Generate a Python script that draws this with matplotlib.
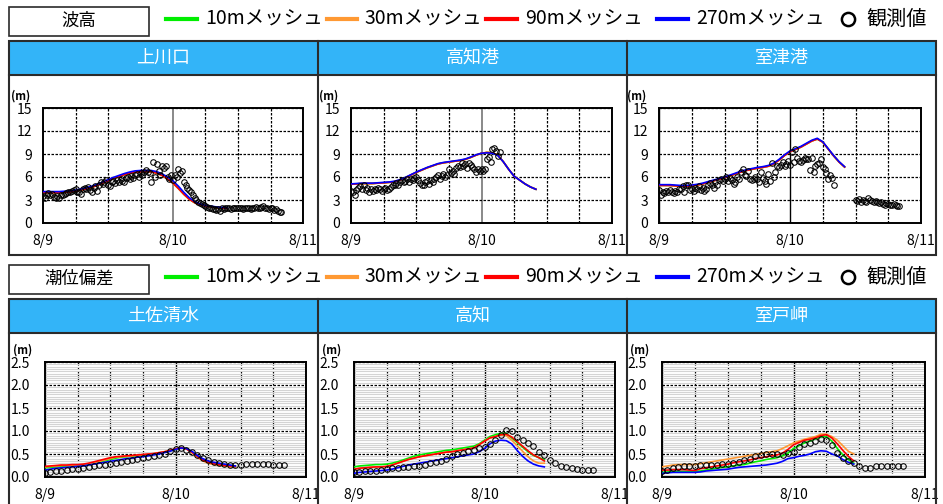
import numpy as np
import matplotlib
matplotlib.use('Agg')
from matplotlib import pyplot as plt
from matplotlib.patches import Rectangle
from matplotlib.lines import Line2D
from matplotlib.ticker import MultipleLocator

plt.rcParams['font.family'] = ['Noto Sans CJK JP', 'DejaVu Sans']

W, H = 943, 504

mesh_names = ['10mメッシュ', '30mメッシュ', '90mメッシュ', '270mメッシュ']
mesh_colors = ['#00ee00', '#ff9933', '#ff0000', '#0000ff']
obs_name = '観測値'
wave_title = '波高'
tide_title = '潮位偏差'
wave_sites = ['上川口', '高知港', '室津港']
tide_sites = ['土佐清水', '高知', '室戸岬']
date_labels = ['8/9', '8/10', '8/11']
date_hours = [0, 24, 48]

# ---- wave height (m), model output every hour from 8/9 0:00 ----
model_hours = np.arange(35)
kami_wave_fine = [3.95, 3.95, 3.95, 3.95, 4.0, 4.05, 4.15, 4.3, 4.45, 4.65, 4.9, 5.2,
                  5.5, 5.8, 6.05, 6.3, 6.5, 6.62, 6.68, 6.7, 6.68, 6.5, 6.2, 5.75,
                  5.2, 4.5, 3.75, 3.1, 2.65, 2.4, 2.2, 2.1, 2.0, 1.95, 1.9]
kami_wave_270 = [4.1, 4.1, 4.1, 4.1, 4.15, 4.2, 4.3, 4.45, 4.6, 4.8, 5.05, 5.35,
                 5.65, 5.95, 6.2, 6.45, 6.65, 6.8, 6.85, 6.85, 6.85, 6.7, 6.4, 6.0,
                 5.5, 4.8, 4.0, 3.3, 2.8, 2.5, 2.3, 2.2, 2.1, 2.05, 2.0]
kochi_wave_fine = [5.05, 5.1, 5.15, 5.15, 5.15, 5.2, 5.25, 5.3, 5.4, 5.6, 5.9, 6.25,
                   6.6, 6.9, 7.2, 7.45, 7.7, 7.85, 7.95, 8.05, 8.15, 8.3, 8.55, 8.85,
                   9.1, 9.2, 9.15, 8.85, 8.0, 7.0, 6.1, 5.6, 5.1, 4.7, 4.4]
kochi_wave_270 = [5.1, 5.15, 5.2, 5.2, 5.2, 5.25, 5.3, 5.35, 5.45, 5.65, 5.95, 6.3,
                  6.65, 6.95, 7.25, 7.5, 7.75, 7.9, 8.0, 8.1, 8.2, 8.35, 8.6, 8.9,
                  9.1, 9.15, 9.1, 8.8, 8.0, 7.0, 6.1, 5.6, 5.1, 4.7, 4.4]
muro_wave_fine = [4.9, 4.9, 4.9, 4.85, 4.8, 4.8, 4.85, 4.95, 5.1, 5.3, 5.5, 5.7,
                  5.9, 6.15, 6.4, 6.65, 6.85, 7.0, 7.15, 7.25, 7.4, 7.7, 8.2, 8.8,
                  9.3, 9.6, 9.9, 10.3, 10.7, 10.95, 10.55, 9.65, 8.75, 7.95, 7.3]
muro_wave_270 = [5.0, 5.0, 5.0, 4.95, 4.9, 4.9, 4.95, 5.05, 5.2, 5.4, 5.6, 5.8,
                 6.0, 6.25, 6.5, 6.75, 6.95, 7.1, 7.25, 7.35, 7.5, 7.8, 8.3, 8.9,
                 9.4, 9.7, 10.0, 10.4, 10.8, 11.05, 10.6, 9.7, 8.8, 8.0, 7.35]

# ---- observed wave height (m), every 20 minutes ----
kami_obs = [3.5, 3.3, 3.7, 3.9, 3.6, 3.8,
            3.4, 3.2, 3.5, 3.3, 3.6, 3.7,
            3.8, 3.9, 4.0, 4.1, 4.2, 4.3,
            4.4, 4.1, 4.0, 3.8, 4.5, 4.6,
            4.5, 4.7, 4.3, 4.1, 4.6, 4.8,
            4.2, 5.0, 5.3, 5.1, 5.4, 5.6,
            5.0, 4.8, 5.3, 5.5, 5.2, 5.6,
            5.4, 5.8, 5.5, 5.3, 5.9, 6.0,
            5.7, 6.1, 5.9, 6.2, 6.4, 6.0,
            6.5, 6.3, 6.6, 6.9, 6.7, 6.5,
            5.4, 7.9, 6.0, 7.7, 6.8, 6.2,
            7.4, 7.2, 7.5, 6.0, 5.8, 6.3,
            5.6, 6.2, 6.0, 7.0, 6.5, 6.8,
            5.3, 5.0, 4.6, 4.3, 4.0, 3.7,
            3.3, 3.0, 2.8, 2.6, 2.5, 2.3,
            2.2, 2.1, 2.0, 1.9, 1.8, 1.8,
            1.7, 1.8, 1.6, 1.9, 1.8, 1.9,
            2.0, 1.9, 1.8, 1.9, 2.0, 1.9,
            1.9, 2.0, 1.9, 1.8, 1.9, 2.0,
            1.9, 1.8, 1.9, 2.0, 2.1, 1.9,
            2.0, 2.1, 2.2, 1.9, 2.0, 1.8,
            2.0, 1.9, 1.7, 1.8, 1.6, 1.5,
            1.5]
kochi_obs = [4.2, 4.0, 3.6, 4.3, 4.6, 4.8,
             4.5, 4.9, 4.3, 4.6, 4.1, 4.4,
             4.2, 4.5, 4.3, 4.6, 4.4, 4.2,
             4.4, 4.6, 4.3, 4.5, 4.7, 4.9,
             5.0, 5.2, 4.9, 5.4, 5.6, 5.3,
             5.5, 5.7, 5.4, 5.8, 5.6, 5.9,
             6.0, 5.6, 5.2, 5.0, 4.9, 5.3,
             5.5, 5.1, 5.6, 5.4, 5.8, 6.0,
             6.2, 5.7, 6.1, 6.4, 6.0, 6.3,
             7.0, 6.5, 6.8, 6.4, 7.2, 7.5,
             7.3, 7.8, 7.4, 7.7, 7.2, 7.8,
             7.6, 7.3, 7.0, 6.7, 7.1, 6.8,
             7.0, 6.8, 7.1, 8.3, 8.6, 7.9,
             9.6, 9.8, 9.4, 8.8, 9.3]
muro_obs_a = [4.3, 3.7, 4.1, 3.9, 4.2, 4.0,
              4.3, 4.1, 3.9, 4.2, 4.0, 4.4,
              4.5, 4.8, 4.1, 4.9, 5.0, 4.3,
              4.4, 4.2, 4.6, 4.5, 4.8, 4.3,
              4.6, 4.2, 4.5, 4.9, 5.2, 5.0,
              4.6, 5.3, 4.9, 5.6, 5.8, 5.5,
              5.7, 6.0, 5.5, 5.9, 5.6, 5.1,
              5.3, 6.0, 5.8, 6.7, 7.0, 6.3,
              6.1, 6.8, 5.8, 5.6, 5.7, 6.0,
              5.7, 5.3, 6.7, 5.9, 5.5, 5.1,
              6.4, 5.5, 7.8, 6.0, 6.6, 7.4,
              7.3, 7.6, 8.0, 7.4, 7.7, 8.1,
              7.6, 9.3, 8.0, 9.6, 8.5, 8.1,
              7.9, 8.2, 8.5, 8.3, 8.4, 6.9,
              8.5, 6.7, 7.5, 7.7, 7.8, 8.3,
              7.3, 7.0, 6.5, 5.8, 6.3, 5.9,
              5.0]
muro_obs_b = [3.0, 2.9, 3.1, 2.8, 3.0, 2.9, 2.8, 3.2, 3.0, 2.9, 2.8, 2.9, 2.7,
              2.6, 2.7, 2.5, 2.4, 2.6, 2.5, 2.3, 2.4, 2.5, 2.3, 2.2, 2.2]

# ---- tide anomaly (m), model every hour, observed every hour ----
tide_model_hours = np.arange(36)
tosa_10 = [0.20, 0.21, 0.22, 0.23, 0.24, 0.25, 0.25, 0.26, 0.28, 0.30, 0.32, 0.35,
           0.38, 0.41, 0.43, 0.44, 0.45, 0.46, 0.47, 0.48, 0.50, 0.52, 0.54, 0.57,
           0.60, 0.64, 0.62, 0.55, 0.46, 0.38, 0.33, 0.30, 0.29, 0.27, 0.25, 0.24]
tosa_30 = [0.22, 0.23, 0.24, 0.25, 0.25, 0.26, 0.26, 0.27, 0.29, 0.31, 0.34, 0.37,
           0.40, 0.43, 0.44, 0.45, 0.46, 0.47, 0.48, 0.49, 0.51, 0.53, 0.55, 0.58,
           0.61, 0.64, 0.61, 0.53, 0.43, 0.35, 0.30, 0.27, 0.25, 0.24, 0.22, 0.22]
tosa_90 = [0.23, 0.24, 0.25, 0.26, 0.26, 0.27, 0.27, 0.28, 0.30, 0.33, 0.36, 0.39,
           0.42, 0.44, 0.45, 0.46, 0.47, 0.48, 0.49, 0.50, 0.51, 0.53, 0.55, 0.58,
           0.61, 0.64, 0.61, 0.54, 0.45, 0.37, 0.32, 0.29, 0.27, 0.25, 0.24, 0.23]
tosa_270 = [0.15, 0.17, 0.19, 0.20, 0.21, 0.22, 0.23, 0.24, 0.26, 0.28, 0.30, 0.32,
            0.34, 0.36, 0.38, 0.40, 0.41, 0.43, 0.44, 0.46, 0.48, 0.50, 0.53, 0.56,
            0.60, 0.63, 0.62, 0.56, 0.47, 0.40, 0.35, 0.32, 0.30, 0.28, 0.26, 0.24]
kochi_10 = [0.22, 0.24, 0.25, 0.26, 0.27, 0.27, 0.28, 0.30, 0.33, 0.37, 0.41, 0.45,
            0.48, 0.50, 0.52, 0.54, 0.56, 0.58, 0.59, 0.61, 0.63, 0.65, 0.67, 0.72,
            0.80, 0.88, 0.92, 0.95, 0.95, 0.85, 0.75, 0.65, 0.55, 0.47, 0.42, 0.38]
kochi_30 = [0.17, 0.19, 0.20, 0.21, 0.22, 0.22, 0.23, 0.26, 0.30, 0.34, 0.38, 0.41,
            0.44, 0.46, 0.48, 0.50, 0.52, 0.54, 0.55, 0.57, 0.59, 0.61, 0.63, 0.70,
            0.78, 0.85, 0.88, 0.91, 0.90, 0.80, 0.68, 0.56, 0.44, 0.35, 0.30, 0.30]
kochi_90 = [0.17, 0.19, 0.20, 0.21, 0.22, 0.22, 0.23, 0.26, 0.30, 0.34, 0.38, 0.41,
            0.44, 0.46, 0.48, 0.50, 0.52, 0.54, 0.55, 0.57, 0.59, 0.61, 0.63, 0.70,
            0.78, 0.85, 0.88, 0.92, 0.93, 0.87, 0.77, 0.67, 0.57, 0.48, 0.42, 0.35]
kochi_270 = [0.08, 0.10, 0.11, 0.12, 0.13, 0.14, 0.15, 0.17, 0.20, 0.23, 0.26, 0.28,
             0.30, 0.32, 0.34, 0.36, 0.38, 0.40, 0.42, 0.44, 0.46, 0.48, 0.50, 0.55,
             0.62, 0.72, 0.78, 0.80, 0.79, 0.72, 0.58, 0.45, 0.35, 0.28, 0.24, 0.22]
muroto_10 = [0.10, 0.11, 0.12, 0.12, 0.12, 0.12, 0.12, 0.13, 0.15, 0.17, 0.19, 0.21,
             0.22, 0.24, 0.26, 0.27, 0.30, 0.33, 0.35, 0.38, 0.40, 0.42, 0.46, 0.52,
             0.62, 0.68, 0.74, 0.78, 0.83, 0.87, 0.88, 0.78, 0.62, 0.48, 0.38, 0.30]
muroto_30 = [0.22, 0.24, 0.26, 0.27, 0.27, 0.27, 0.27, 0.29, 0.31, 0.33, 0.35, 0.37,
             0.39, 0.41, 0.43, 0.45, 0.47, 0.49, 0.51, 0.53, 0.55, 0.57, 0.62, 0.68,
             0.74, 0.78, 0.82, 0.85, 0.88, 0.93, 0.93, 0.88, 0.80, 0.68, 0.56, 0.50]
muroto_90 = [0.15, 0.15, 0.16, 0.16, 0.16, 0.15, 0.14, 0.18, 0.20, 0.22, 0.24, 0.26,
             0.28, 0.31, 0.33, 0.35, 0.37, 0.40, 0.42, 0.44, 0.46, 0.48, 0.52, 0.60,
             0.70, 0.75, 0.80, 0.82, 0.85, 0.90, 0.92, 0.85, 0.72, 0.58, 0.45, 0.35]
muroto_270 = [0.08, 0.09, 0.10, 0.10, 0.10, 0.10, 0.10, 0.11, 0.13, 0.14, 0.15, 0.16,
              0.17, 0.19, 0.21, 0.22, 0.23, 0.24, 0.25, 0.26, 0.28, 0.30, 0.34, 0.40,
              0.42, 0.45, 0.47, 0.50, 0.55, 0.57, 0.56, 0.50, 0.46, 0.38, 0.32, 0.28]

obs_tide_hours = np.arange(45)
tosa_obs = [0.09, 0.10, 0.12, 0.13, 0.15, 0.17, 0.18, 0.20, 0.22, 0.24,
            0.26, 0.27, 0.29, 0.31, 0.33, 0.35, 0.37, 0.39, 0.41, 0.43,
            0.45, 0.48, 0.51, 0.56, 0.61, 0.64, 0.58, 0.54, 0.47, 0.41,
            0.36, 0.33, 0.31, 0.29, 0.27, 0.27, 0.27, 0.28, 0.28, 0.28,
            0.28, 0.28, 0.27, 0.27, 0.27]
kochi_obs_tide = [0.10, 0.11, 0.12, 0.13, 0.14, 0.16, 0.18, 0.19, 0.20, 0.21,
                  0.22, 0.23, 0.24, 0.27, 0.30, 0.33, 0.35, 0.40, 0.46, 0.50,
                  0.53, 0.56, 0.59, 0.63, 0.66, 0.72, 0.80, 0.91, 1.02, 1.00,
                  0.88, 0.80, 0.75, 0.68, 0.55, 0.47, 0.37, 0.30, 0.25, 0.22,
                  0.19, 0.17, 0.16, 0.16, 0.16]
muroto_obs = [0.13, 0.16, 0.20, 0.22, 0.23, 0.24, 0.25, 0.26, 0.27, 0.27,
              0.27, 0.28, 0.29, 0.31, 0.33, 0.36, 0.40, 0.45, 0.48, 0.50,
              0.49, 0.50, 0.48, 0.52, 0.55, 0.66, 0.72, 0.75, 0.79, 0.82,
              0.80, 0.70, 0.53, 0.41, 0.34, 0.30, 0.25, 0.19, 0.19, 0.23,
              0.25, 0.25, 0.25, 0.25, 0.25]

HEADER = '#33b4f8'
FRAME = '#2b2b2b'
DASH = (0, (2, 1.2))

fig = plt.figure(figsize=(W / 100, H / 100), dpi=100)


def fx(x):
    return x / W


def fy(y):
    return 1 - y / H


def add_box(x0, y0, x1, y1, **kw):
    fig.add_artist(Rectangle((fx(x0), fy(y1)), fx(x1) - fx(x0), fy(y0) - fy(y1),
                             transform=fig.transFigure, **kw))


def add_line(xs, ys, **kw):
    fig.add_artist(Line2D([fx(x) for x in xs], [fy(y) for y in ys],
                          transform=fig.transFigure, **kw))


def section(y_top, y_head, y_bot, title, sites, centers):
    # title box and legend row
    add_box(9, y_top - 34, 149, y_top - 5, fill=False, ec=FRAME, lw=1.2)
    fig.text(fx(79), fy(y_top - 20), title, ha='center', va='center', fontsize=12.5)
    ly = y_top - 22
    for (x0, x1, tx), name, c in zip([(166, 197, 205), (327, 357, 364),
                                      (486, 517, 525), (657, 688, 696)],
                                     mesh_names, mesh_colors):
        add_line([x0, x1], [ly, ly], color=c, lw=3)
        fig.text(fx(tx), fy(ly), name, ha='left', va='center', fontsize=14)
    add_line([848], [ly], ls='none', marker='o', ms=9.5, mfc='none', mec='black', mew=1.8)
    fig.text(fx(866), fy(ly), obs_name, ha='left', va='center', fontsize=14.5)
    # panel frame with blue header
    add_box(9, y_top, 936, y_head, fc=HEADER, ec='none')
    add_box(9, y_top, 936, y_bot, fill=False, ec=FRAME, lw=1.5)
    add_line([9, 936], [y_head, y_head], color=FRAME, lw=1.5)
    for xs in (318, 627):
        add_line([xs, xs], [y_top, y_bot], color=FRAME, lw=1.5)
    for name, cx in zip(sites, centers):
        fig.text(fx(cx), fy((y_top + y_head) / 2), name, ha='center', va='center',
                 fontsize=13, color='white')


section(41, 75, 255, wave_title, wave_sites, [163.5, 472.5, 781.5])
section(299, 333, 520, tide_title, tide_sites, [163.5, 472.5, 781.5])


def make_axes(x0, x1, y0, y1, ymax, ystep, minor, pad, day_color):
    ax = fig.add_axes([fx(x0), fy(y1), fx(x1) - fx(x0), fy(y0) - fy(y1)])
    ax.set_xlim(0, 48)
    ax.set_ylim(0, ymax)
    ax.set_xticks(date_hours)
    ax.set_xticklabels(date_labels)
    ax.xaxis.set_minor_locator(MultipleLocator(6))
    ax.set_yticks(np.arange(0, ymax + ystep / 2, ystep))
    if ystep < 1:
        ax.set_yticklabels([f'{v:.1f}' for v in ax.get_yticks()])
    ax.tick_params(which='both', length=0, labelsize=10)
    ax.tick_params(axis='y', pad=pad)
    ax.tick_params(axis='x', pad=8)
    ax.set_axisbelow(True)
    if minor:
        ax.yaxis.set_minor_locator(MultipleLocator(minor))
        ax.grid(axis='y', which='minor', color='#d4d4d4', lw=0.8, ls='-')
    ax.grid(axis='y', which='major', color='black', lw=0.9, ls=DASH)
    ax.grid(axis='x', which='minor', color='black', lw=0.9, ls=DASH)
    ax.grid(axis='x', which='major', color=day_color, lw=1.3 if day_color != 'black' else 1.0)
    for s in ax.spines.values():
        s.set_linewidth(1.4)
    fig.text(fx(x0 - 22), fy(y0 - 12), '(m)', ha='center', va='center',
             fontsize=8, fontweight='bold')
    return ax


def draw_obs(ax, t, v):
    ax.plot(t, v, 'o', ms=4.0, mfc='none', mec='black', mew=0.75, zorder=5)


wave_hours_obs = np.arange(133) / 3.0
wave_panels = [
    ((43, 303), kami_wave_fine, kami_wave_270, '#808080'),
    ((351, 612), kochi_wave_fine, kochi_wave_270, '#808080'),
    ((659, 921), muro_wave_fine, muro_wave_270, 'black'),
]
wave_axes = []
for (x0, x1), fine, coarse, dcol in wave_panels:
    ax = make_axes(x0, x1, 108, 223, 15, 3, None, 8, dcol)
    for c in mesh_colors[:3]:
        ax.plot(model_hours, fine, color=c, lw=1.2, zorder=3)
    ax.plot(model_hours, coarse, color=mesh_colors[3], lw=1.2, zorder=4)
    wave_axes.append(ax)

draw_obs(wave_axes[0], wave_hours_obs[:len(kami_obs)], kami_obs)
draw_obs(wave_axes[1], wave_hours_obs[:len(kochi_obs)], kochi_obs)
draw_obs(wave_axes[2], np.arange(len(muro_obs_a)) / 3.0, muro_obs_a)
draw_obs(wave_axes[2], 36 + np.arange(len(muro_obs_b)) / 3.0, muro_obs_b)

tide_panels = [
    ((45, 306), [tosa_10, tosa_30, tosa_90, tosa_270], tosa_obs),
    ((354, 615), [kochi_10, kochi_30, kochi_90, kochi_270], kochi_obs_tide),
    ((662, 925), [muroto_10, muroto_30, muroto_90, muroto_270], muroto_obs),
]
for (x0, x1), series, obs in tide_panels:
    ax = make_axes(x0, x1, 362, 477, 2.5, 0.5, 0.05, 11, 'black')
    for vals, c, z in zip(series, mesh_colors, [3, 3.2, 3.4, 3.6]):
        ax.plot(tide_model_hours, vals, color=c, lw=1.2, zorder=z)
    draw_obs(ax, obs_tide_hours, obs)

fig.savefig('out.png', dpi=100)
